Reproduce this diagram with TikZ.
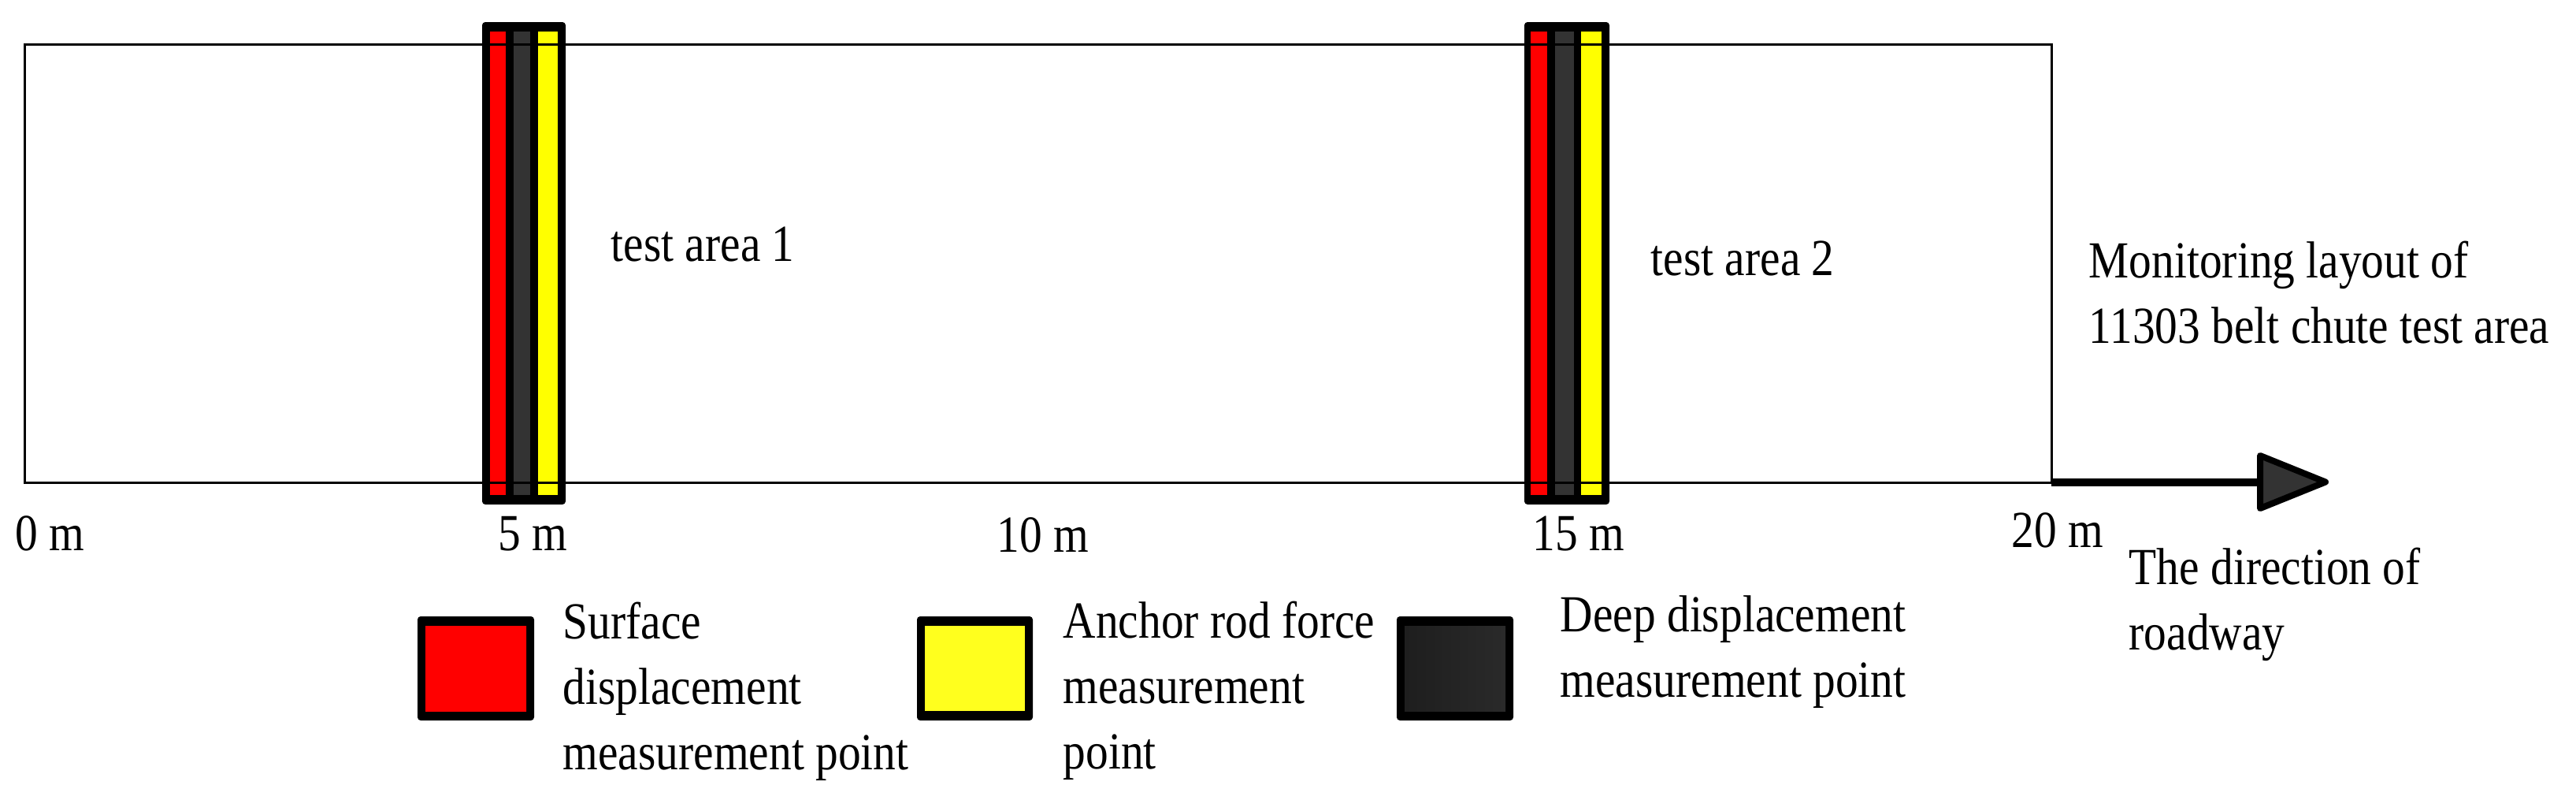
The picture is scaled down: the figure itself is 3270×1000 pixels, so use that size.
\documentclass[tikz,border=0pt]{standalone}
\usepackage{fontspec}
\setmainfont[FakeStretch=0.87]{Liberation Serif}
\definecolor{colred}{RGB}{255,0,0}
\definecolor{colyel}{RGB}{255,255,0}
\definecolor{coldark}{RGB}{51,51,51}
\definecolor{legred}{RGB}{255,38,38}
\definecolor{legyel}{RGB}{255,255,30}
\definecolor{legdarkA}{RGB}{30,30,30}
\definecolor{legdarkB}{RGB}{42,42,42}
\begin{document}
\begin{tikzpicture}[x=0.25pt,y=-0.25pt,
  lbl/.style={inner sep=0pt, font=\fontsize{16.5pt}{20.75pt}\selectfont, align=left},
  frame/.style={fill=black, rounded corners=1pt},
  roadline/.style={line width=0.75pt, draw=black}]
\useasboundingbox (0,0) rectangle (3270,1000);
% test column 1
\fill[frame] (612,28) rectangle (718,640);
\fill[colred] (622,40) rectangle (642,628);
\fill[coldark] (652,40) rectangle (673,628);
\fill[colyel] (683,40) rectangle (708,628);
% test column 2
\fill[frame] (1935,28) rectangle (2043,640);
\fill[colred] (1943,40) rectangle (1964,628);
\fill[coldark] (1974,40) rectangle (1998,628);
\fill[colyel] (2007,40) rectangle (2033,628);
% roadway rectangle
\draw[roadline] (31,56) rectangle (2604,612);
% direction arrow
\coordinate (roadEnd) at (2604,611.5);
\coordinate (headBase) at (2869,611.5);
\coordinate (headTip) at (2952,611.5);
\draw[line width=2.5pt] (roadEnd) -- (headBase);
\filldraw[fill=coldark, draw=black, line width=2pt, line join=round] (2869,578) -- (headTip) -- (2869,645) -- cycle;
% legend boxes
\fill[frame] (530,782) rectangle (678,914);
\shade[left color=colred, middle color=legred, right color=colred] (540,794) rectangle (668,902);
\fill[frame] (1164,782) rectangle (1311,914);
\fill[legyel] (1174,794) rectangle (1301,902);
\fill[frame] (1773,782) rectangle (1921,914);
\shade[left color=legdarkA, right color=legdarkB] (1783,794) rectangle (1911,902);
% texts
\node[lbl, anchor=base west] (ta1) at (775,331) {test area 1};
\node[lbl, anchor=base west] (ta2) at (2095,349) {test area 2};
\node[lbl, anchor=north west] (title) at (2651,305) {Monitoring layout of\\11303 belt chute test area};
\node[lbl, anchor=north west] (dir) at (2702,694) {The direction of\\roadway};
\node[lbl, anchor=base west] (m0) at (19,698) {0 m};
\node[lbl, anchor=base west] (m5) at (632,698) {5 m};
\node[lbl, anchor=base west] (m10) at (1265,700) {10 m};
\node[lbl, anchor=base west] (m15) at (1945,698) {15 m};
\node[lbl, anchor=base west] (m20) at (2553,694) {20 m};
\node[lbl, anchor=north west] (legA) at (714,763) {Surface\\displacement\\measurement point};
\node[lbl, anchor=north west] (legB) at (1349,762) {Anchor rod force\\measurement\\point};
\node[lbl, anchor=north west] (legC) at (1980,755) {Deep displacement\\measurement point};
\end{tikzpicture}
\end{document}
